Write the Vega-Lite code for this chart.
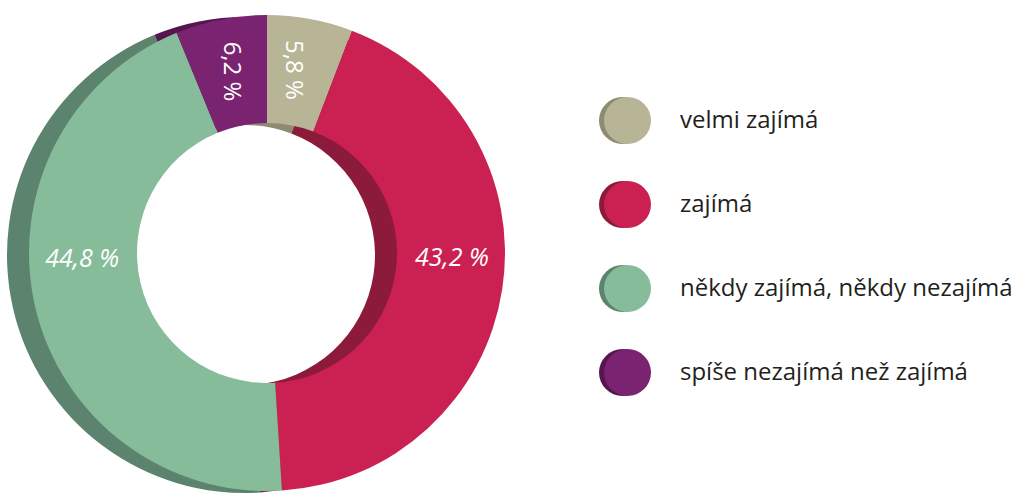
{
  "$schema": "https://vega.github.io/schema/vega-lite/v6.json",
  "width": 534,
  "height": 506,
  "padding": 0,
  "background": "white",
  "config": {"view": {"stroke": null}},
  "data": {
    "values": [
      {"kategorie": "velmi zajímá", "hodnota": 5.8, "popisek": "5,8 %", "poradi": 1},
      {"kategorie": "zajímá", "hodnota": 43.2, "popisek": "43,2 %", "poradi": 2},
      {"kategorie": "někdy zajímá, někdy nezajímá", "hodnota": 44.8, "popisek": "44,8 %", "poradi": 3},
      {"kategorie": "spíše nezajímá než zajímá", "hodnota": 6.2, "popisek": "6,2 %", "poradi": 4}
    ]
  },
  "layer": [
    {
      "mark": {"type": "arc", "innerRadius": 130, "outerRadius": 238, "xOffset": -22, "yOffset": 2},
      "encoding": {
        "theta": {"field": "hodnota", "type": "quantitative", "stack": true},
        "order": {"field": "poradi", "type": "ordinal"},
        "color": {
          "field": "kategorie",
          "type": "nominal",
          "sort": ["velmi zajímá", "zajímá", "někdy zajímá, někdy nezajímá", "spíše nezajímá než zajímá"],
          "scale": {
            "domain": ["velmi zajímá", "zajímá", "někdy zajímá, někdy nezajímá", "spíše nezajímá než zajímá"],
            "range": ["#8e8b72", "#8c1a3a", "#5b836d", "#541550"]
          },
          "legend": {
            "orient": "none", "legendX": 599, "legendY": 97, "title": null,
            "symbolType": "circle", "symbolSize": 2209, "symbolStrokeWidth": 0,
            "rowPadding": 37, "labelExpr": "''", "labelFontSize": 24, "labelOffset": 34, "padding": 0
          }
        }
      }
    },
    {
      "mark": {"type": "arc", "innerRadius": 130, "outerRadius": 238},
      "encoding": {
        "theta": {"field": "hodnota", "type": "quantitative", "stack": true},
        "order": {"field": "poradi", "type": "ordinal"},
        "color": {
          "field": "kategorie",
          "type": "nominal",
          "sort": ["velmi zajímá", "zajímá", "někdy zajímá, někdy nezajímá", "spíše nezajímá než zajímá"],
          "scale": {
            "domain": ["velmi zajímá", "zajímá", "někdy zajímá, někdy nezajímá", "spíše nezajímá než zajímá"],
            "range": ["#b8b597", "#cb2152", "#86bc9a", "#7a2370"]
          },
          "legend": {
            "orient": "none", "legendX": 604, "legendY": 97, "title": null,
            "symbolType": "circle", "symbolSize": 2209, "symbolStrokeWidth": 0,
            "rowPadding": 37, "labelFontSize": 24, "labelFont": "Open Sans",
            "labelColor": "#231f20", "labelOffset": 29, "labelLimit": 500, "padding": 0
          }
        }
      }
    },
    {
      "mark": {"type": "text", "radius": 185, "thetaOffset": -0.04, "angle": 90, "font": "Open Sans", "fontSize": 24, "color": "white", "align": "center", "baseline": "middle"},
      "encoding": {
        "theta": {"field": "hodnota", "type": "quantitative", "stack": true},
        "order": {"field": "poradi", "type": "ordinal"},
        "text": {"condition": {"test": "datum.poradi == 1", "field": "popisek"}, "value": ""}
      }
    },
    {
      "mark": {"type": "text", "radius": 185, "angle": 90, "font": "Open Sans", "fontSize": 24, "color": "white", "align": "center", "baseline": "middle"},
      "encoding": {
        "theta": {"field": "hodnota", "type": "quantitative", "stack": true},
        "order": {"field": "poradi", "type": "ordinal"},
        "text": {"condition": {"test": "datum.poradi == 4", "field": "popisek"}, "value": ""}
      }
    },
    {
      "mark": {"type": "text", "radius": 185, "thetaOffset": -0.124, "font": "Open Sans", "fontSize": 25, "fontStyle": "italic", "color": "white", "align": "center", "baseline": "middle"},
      "encoding": {
        "theta": {"field": "hodnota", "type": "quantitative", "stack": true},
        "order": {"field": "poradi", "type": "ordinal"},
        "text": {"condition": {"test": "datum.poradi == 2", "field": "popisek"}, "value": ""}
      }
    },
    {
      "mark": {"type": "text", "radius": 185, "thetaOffset": 0.192, "font": "Open Sans", "fontSize": 25, "fontStyle": "italic", "color": "white", "align": "center", "baseline": "middle"},
      "encoding": {
        "theta": {"field": "hodnota", "type": "quantitative", "stack": true},
        "order": {"field": "poradi", "type": "ordinal"},
        "text": {"condition": {"test": "datum.poradi == 3", "field": "popisek"}, "value": ""}
      }
    }
  ],
  "resolve": {"scale": {"color": "independent"}}
}
